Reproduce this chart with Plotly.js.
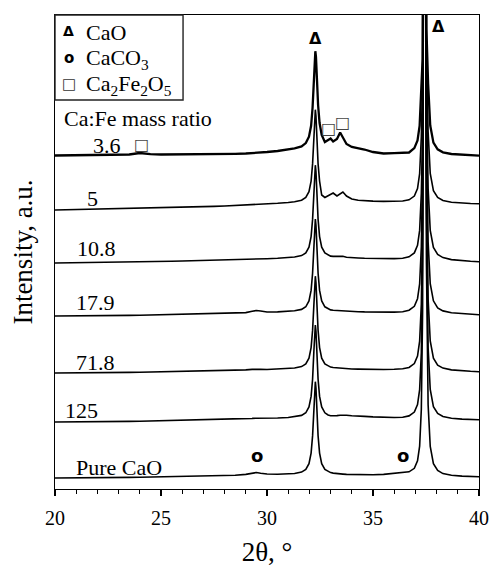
<!DOCTYPE html>
<html>
<head>
<meta charset="utf-8">
<script src="https://cdn.plot.ly/plotly-3.0.1.min.js"></script>
<style>html,body{margin:0;padding:0;background:#fff;}</style>
</head>
<body>
<div id="chart" style="width:492px;height:567px;"></div>
<script>
// 2-theta grid (degrees)
const twoTheta = [20,20.5,21,21.5,22,22.5,23,23.5,24,24.5,25,25.5,26,26.5,27,27.5,28,28.5,29,29.3,29.5,29.7,30,30.5,31,31.3,31.63,31.83,31.98,32.08,32.15,32.21,32.25,32.28,32.31,32.35,32.41,32.48,32.58,32.73,32.88,33.0,33.12,33.3,33.45,33.58,33.75,34,34.3,34.6,35,35.5,36,36.4,36.7,36.95,37.1,37.2,37.28,37.34,37.39,37.43,37.47,37.52,37.6,37.7,37.85,38.05,38.3,38.7,39.2,39.6,40];

// stacked intensities (a.u., offsets included)
const pureCaO = [11,11,11,11.2,11.3,11.4,11.5,11.6,11.8,12,12,12.2,12.4,12.6,12.8,13,13.4,13.8,14.6,16,16.5,15.8,
  15.0,14.8,15.0,15.5,16.9,19.5,25.3,35.9,53.1,80.5,100.9,107.3,100.9,80.5,53.1,35.9,25.3,19.5,17.3,16.4,15.9,15.3,15.0,14.9,14.6,14.4,
  14.3,14.3,14.3,14.6,15.9,16.5,17.2,20.7,28.1,42.9,79.9,178.4,513.4,1013.3,593.3,228.2,84.3,42.5,25.4,18.5,15.4,13.7,12.9,12.5,12.3];
const ratio125 = [67,67,67.1,67.2,67.3,67.4,67.5,67.6,67.8,68,68.2,68.4,68.6,68.8,69,69.3,69.6,70,70.3,70.6,70.8,70.7,
  70.7,71.0,71.5,72.2,73.6,76.2,82,92.6,109.8,137.2,157.6,164,157.6,137.2,109.8,92.6,82,76.2,74,73.3,73.2,73.4,73.8,74,73.8,73.2,
  73.1,72.6,72.1,71.6,71.5,71.8,73.1,76.9,84.5,99.4,136.4,235,570,1070,650,285,141.2,99.5,82.4,75.5,72.5,70.8,69.9,69.5,69.3];
const ratio71_8 = [116,116,116.1,116.2,116.3,116.4,116.5,116.6,116.8,117,117.1,117.3,117.5,117.7,117.9,118.1,118.4,118.7,119.1,119.6,119.8,119.6,
  119.5,119.8,120.3,121.0,122.4,125.0,130.8,141.4,158.6,186.0,206.4,212.8,206.4,186.0,158.6,141.4,130.8,125.0,122.8,121.9,121.5,121.1,120.8,120.7,120.3,120,
  119.9,119.7,119.5,119.5,119.7,120.2,121.5,125.4,133,147.9,184.9,270,618.5,1118.5,698.5,320,189.7,148,130.9,123.9,120.9,119.1,118.1,117.7,117.3];
const ratio17_9 = [173,173,173.1,173.2,173.3,173.4,173.5,173.6,173.8,174,174.1,174.3,174.5,174.7,174.9,175.1,175.4,175.8,176.4,177.8,178.5,178,
  177.0,177.1,177.6,178.2,179.6,182.2,188.0,198.6,215.8,243.2,263.6,270,263.6,243.2,215.8,198.6,188.0,182.2,180.0,179.1,178.7,178.4,178.1,178.1,177.7,177.4,
  177.3,177.1,176.9,176.8,176.9,177.3,178.8,182.7,190.3,205.2,242.2,320,675.8,1175.8,755.8,370,247,205.3,188.2,181.1,178.1,176.2,175.2,174.7,174.3];
const ratio10_8 = [226,226.1,226.2,226.3,226.5,226.6,226.8,227,227.2,227.4,227.6,227.8,228,228.2,228.4,228.6,228.9,229.2,229.5,229.7,229.9,230,
  230.3,230.7,231.3,232.0,233.4,236.0,241.8,252.4,269.6,297.0,317.4,323.8,317.4,297.0,269.6,252.4,241.8,236.0,233.8,232.9,232.6,232.6,233.0,232.7,231.8,231.2,
  231.0,230.7,230.5,230.3,230.4,230.7,232.2,236.1,243.7,258.6,295.6,360,729.2,1229.2,809.2,410,300.4,258.7,241.6,234.5,231.4,229.4,228.3,227.8,227.3];
const ratio5 = [279,279.2,279.4,279.6,279.8,280,280.2,280.4,280.7,281,281.2,281.4,281.7,282,282.3,282.6,283,283.4,283.8,284,284.3,284.5,
  285.0,285.7,286.5,287.2,288.8,291.5,297.3,307.9,325.1,352.5,372.9,379.3,372.9,352.5,325.1,307.9,294,291.5,293.5,294.5,296,293,295,297,293,290,
  288.8,288.3,287.9,287.6,287.7,288,289.2,292.9,300.5,315.4,352.4,410,786,1286,866,440,357.2,315.5,298.4,291.5,288.5,286.8,285.9,285.5,285.3];
const ratio3_6 = [333.5,333.6,333.8,333.9,334,334.1,334.2,334.5,336,334.8,334.5,334.5,334.5,334.6,334.7,334.8,335,335.2,335.5,335.8,336.2,336.5,
  337,338,339.5,340.7,342.6,345.9,352.3,363.2,381.5,410.2,431.2,437.8,432.2,411.7,384,366,354,347,348.5,350.5,347.5,350,356.5,351,345,342,
  341,339.5,337,335.5,335.8,336,336.5,340.9,348.5,363.4,400.4,430,834,1334,914,460,405.2,363.5,346.4,339.7,336.7,335,334.1,333.7,333.3];

const seriesList = [ratio3_6, ratio5, ratio10_8, ratio17_9, ratio71_8, ratio125, pureCaO];
const seriesNames = ['3.6', '5', '10.8', '17.9', '71.8', '125', 'Pure CaO'];
const seriesWidths = [2.3, 1.6, 1.6, 1.6, 1.6, 1.6, 1.6];

// label positions (x in degrees, y in intensity units)
const labelX = [22.45, 21.79, 21.98, 21.93, 21.93, 21.23, 23.02];
const labelY = [344, 291, 241, 187, 127, 79, 22];

const xTickVals = [20, 25, 30, 35, 40];
const xTickText = ['20', '25', '30', '35', '40'];

const traces = seriesList.map((ys, i) => ({
  type: 'scatter', mode: 'lines', x: twoTheta, y: ys, name: seriesNames[i],
  line: {color: '#000', width: seriesWidths[i]}, hoverinfo: 'skip'
}));

const serif = 'Liberation Serif';
const sans = 'DejaVu Sans';

const annotations = [];
seriesNames.forEach((t, i) => annotations.push({
  x: labelX[i], y: labelY[i], xref: 'x', yref: 'y', text: t, showarrow: false,
  font: {family: serif, size: 22, color: '#000'}, xanchor: 'center', yanchor: 'middle'
}));
// legend entries
const legendSym = ['<b>Δ</b>', '<b>o</b>', '□'];
const legendTxt = ['CaO', 'CaCO<sub>3</sub>', 'Ca<sub>2</sub>Fe<sub>2</sub>O<sub>5</sub>'];
const legendY = [458, 431, 405];
const legendSymSize = [14, 15, 15];
legendSym.forEach((s, i) => {
  annotations.push({x: 20.66, y: legendY[i], xref: 'x', yref: 'y', text: s, showarrow: false,
    font: {family: sans, size: legendSymSize[i], color: i === 2 ? '#333' : '#000'},
    xanchor: 'center', yanchor: 'middle'});
  annotations.push({x: 21.37, y: legendY[i] - 1, xref: 'x', yref: 'y', text: legendTxt[i], showarrow: false,
    font: {family: serif, size: 22, color: '#000'}, xanchor: 'left', yanchor: 'middle'});
});
annotations.push({x: 20.33, y: 371, xref: 'x', yref: 'y', text: 'Ca:Fe mass ratio', showarrow: false,
  font: {family: serif, size: 22, color: '#000'}, xanchor: 'left', yanchor: 'middle'});

// phase markers on peaks
const markSym = ['Δ', 'Δ', '□', '□', '□', 'o', 'o'];
const markX = [32.31, 38.11, 32.88, 33.54, 24.1, 29.53, 36.42];
const markY = [451, 463, 361, 367, 345, 34, 34];
markSym.forEach((s, i) => annotations.push({
  x: markX[i], y: markY[i], xref: 'x', yref: 'y', text: s === '□' ? s : '<b>' + s + '</b>', showarrow: false,
  font: {family: sans, size: s === 'o' ? 18 : (s === 'Δ' ? 16 : 16), color: s === '□' ? '#444' : '#000'},
  xanchor: 'center', yanchor: 'middle'
}));

const layout = {
  width: 492, height: 567,
  margin: {l: 55, r: 13, t: 15, b: 78, pad: 0},
  paper_bgcolor: '#fff', plot_bgcolor: '#fff',
  font: {family: serif, color: '#000', size: 20},
  showlegend: false,
  xaxis: {
    range: [20, 40], tickmode: 'array', tickvals: xTickVals, ticktext: xTickText,
    ticks: 'outside', ticklen: 6, tickwidth: 1.3, tickcolor: '#000', ticklabelstandoff: 5,
    minor: {tickmode: 'linear', tick0: 20, dtick: 1, ticks: 'outside', ticklen: 3.5, tickwidth: 1, tickcolor: '#000'},
    showline: true, linecolor: '#000', linewidth: 1.3, mirror: true,
    showgrid: false, zeroline: false,
    tickfont: {family: serif, size: 20, color: '#000'},
    title: {text: '2θ, °', font: {family: serif, size: 27, color: '#000'}, standoff: 18}
  },
  yaxis: {
    range: [0, 474], showticklabels: false, ticks: '',
    showline: true, linecolor: '#000', linewidth: 1.3, mirror: true,
    showgrid: false, zeroline: false,
    title: {text: 'Intensity, a.u.', font: {family: serif, size: 27, color: '#000'}, standoff: 13}
  },
  shapes: [{type: 'rect', xref: 'paper', yref: 'paper', x0: 0, x1: 0.302, y0: 0.8207, y1: 1,
    line: {color: '#222', width: 1.4}, fillcolor: 'rgba(0,0,0,0)'}],
  annotations: annotations
};

Plotly.newPlot('chart', traces, layout, {displayModeBar: false, staticPlot: true});
</script>
</body>
</html>
